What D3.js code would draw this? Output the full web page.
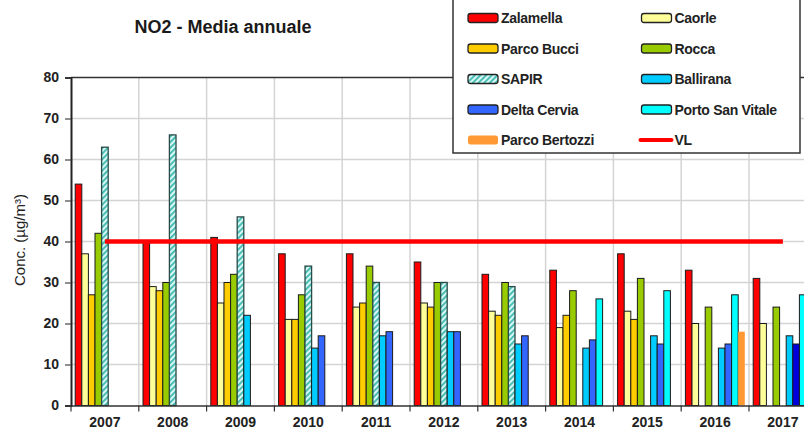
<!DOCTYPE html>
<html>
<head>
<meta charset="utf-8">
<script src="https://cdn.jsdelivr.net/npm/d3@7"></script>
<style>
  html, body { margin: 0; padding: 0; background: #fff; }
  svg { display: block; font-family: "Liberation Sans", Arial, sans-serif; }
</style>
</head>
<body>
<svg id="chart" width="804" height="434"></svg>
<script>
// Annual mean NO2 per monitoring station
const years = ["2007","2008","2009","2010","2011","2012","2013","2014","2015","2016","2017"];
const stations = ["Zalamella","Caorle","Parco Bucci","Rocca","SAPIR","Ballirana","Delta Cervia","Porto San Vitale","Parco Bertozzi"];

const zalamella      = [54, 40, 41, 37, 37, 35, 32, 33, 37, 33, 31];
const caorle         = [37, 29, 25, 21, 24, 25, 23, 19, 23, 20, 20];
const parcoBucci     = [27, 28, 30, 21, 25, 24, 22, 22, 21, null, null];
const rocca          = [42, 30, 32, 27, 34, 30, 30, 28, 31, 24, 24];
const sapir          = [63, 66, 46, 34, 30, 30, 29, null, null, null, null];
const ballirana      = [null, null, 22, 14, 17, 18, 15, 14, 17, 14, 17];
const deltaCervia    = [null, null, null, 17, 18, 18, 17, 16, 15, 15, 15];
const portoSanVitale = [null, null, null, null, null, null, null, 26, 28, 27, 27];
const parcoBertozzi  = [null, null, null, null, null, null, null, null, null, 18, null];
const limitValue     = [40, 40, 40, 40, 40, 40, 40, 40, 40, 40, 40];

const yTicks = [0, 10, 20, 30, 40, 50, 60, 70, 80];

const seriesValues = [zalamella, caorle, parcoBucci, rocca, sapir, ballirana, deltaCervia, portoSanVitale, parcoBertozzi];

const fills = {
  "Zalamella": "#ff0000",
  "Caorle": "#ffff99",
  "Parco Bucci": "#ffcc00",
  "Rocca": "#99cc00",
  "SAPIR": "url(#hatch)",
  "Ballirana": "#00ccff",
  "Delta Cervia": "#3366ff",
  "Porto San Vitale": "#00ffff",
  "Parco Bertozzi": "#ff9933"
};
const pointFill = { "Delta Cervia|2017": "#0000dd" };

const svg = d3.select("#chart");
const defs = svg.append("defs");
const pat = defs.append("pattern")
  .attr("id", "hatch").attr("patternUnits", "userSpaceOnUse")
  .attr("width", 4).attr("height", 4)
  .attr("patternTransform", "rotate(-45)");
pat.append("rect").attr("width", 4).attr("height", 4).attr("fill", "#d8f8f4");
pat.append("rect").attr("width", 4).attr("height", 1.8).attr("fill", "#3cb8b0");

const plotLeft = 71, plotTop = 77.5, plotBottom = 405.5, step = 67.8;
const x0 = d3.scaleBand().domain(years).range([plotLeft, plotLeft + step * years.length]).padding(0);
const x1 = d3.scaleBand().domain(stations).range([4.2, x0.bandwidth() - 4.2]).padding(0);
const y = d3.scaleLinear().domain([0, 80]).range([plotBottom, plotTop]);

// grid
const grid = svg.append("g");
grid.selectAll("line.h").data(yTicks.filter(d => d > 0 && d < 80)).join("line")
  .attr("x1", plotLeft).attr("x2", 804).attr("y1", d => y(d)).attr("y2", d => y(d))
  .attr("stroke", "#d4d4d4").attr("stroke-width", 1.5);
grid.selectAll("line.v").data(years.slice(1)).join("line")
  .attr("x1", d => x0(d)).attr("x2", d => x0(d)).attr("y1", plotTop).attr("y2", plotBottom)
  .attr("stroke", "#d4d4d4").attr("stroke-width", 1.5);
// frame top
svg.append("line").attr("x1", plotLeft).attr("x2", 804).attr("y1", plotTop).attr("y2", plotTop)
  .attr("stroke", "#333").attr("stroke-width", 1.3);

// bars
const barData = [];
stations.forEach((s, si) => {
  seriesValues[si].forEach((v, yi) => {
    if (v !== null) barData.push({ station: s, year: years[yi], value: v });
  });
});
svg.append("g").selectAll("rect").data(barData).join("rect")
  .attr("x", d => x0(d.year) + x1(d.station))
  .attr("y", d => y(d.value))
  .attr("width", x1.bandwidth())
  .attr("height", d => y(0) - y(d.value))
  .attr("fill", d => pointFill[d.station + "|" + d.year] || fills[d.station])
  .attr("stroke", d => d.station === "Parco Bertozzi" ? "none" : (d.station === "SAPIR" ? "#2a4a48" : "#1a1a1a"))
  .attr("stroke-width", d => d.station === "SAPIR" ? 1.3 : 1);

// limit value line
const vl = d3.line().x((d, i) => x0(years[i]) + x0.bandwidth() / 2).y(d => y(d));
svg.append("path").datum(limitValue).attr("d", vl)
  .attr("fill", "none").attr("stroke", "#ff0000").attr("stroke-width", 4.5);

// axes
const yAxis = svg.append("g").attr("transform", `translate(${plotLeft},0)`)
  .call(d3.axisLeft(y).tickValues(yTicks).tickSize(6).tickPadding(6));
yAxis.select(".domain").attr("stroke", "#222").attr("stroke-width", 2);
yAxis.selectAll(".tick line").attr("stroke", "#444").attr("stroke-width", 1.2);
yAxis.selectAll("text").attr("font-size", 14).attr("font-weight", "bold").attr("fill", "#222")
  .attr("font-family", "Liberation Sans, Arial, sans-serif");

const xAxis = svg.append("g").attr("transform", `translate(0,${plotBottom})`)
  .call(d3.axisBottom(x0).tickSize(0).tickPadding(12));
xAxis.select(".domain").attr("stroke", "#333").attr("stroke-width", 1.5);
xAxis.selectAll("text").attr("font-size", 14).attr("font-weight", "bold").attr("fill", "#222")
  .attr("font-family", "Liberation Sans, Arial, sans-serif");
svg.append("g").selectAll("line").data(years).join("line")
  .attr("x1", d => x0(d)).attr("x2", d => x0(d)).attr("y1", plotBottom).attr("y2", plotBottom + 6)
  .attr("stroke", "#333").attr("stroke-width", 1.2);

// titles
svg.append("text").attr("x", 223).attr("y", 33).attr("text-anchor", "middle")
  .attr("font-size", 18).attr("font-weight", "bold").attr("fill", "#1a1a1a")
  .text("NO2 - Media annuale");
svg.append("text").attr("transform", "translate(25,240) rotate(-90)").attr("text-anchor", "middle")
  .attr("font-size", 15).attr("fill", "#222")
  .text("Conc. (µg/m³)");

// legend
const legend = svg.append("g");
legend.append("rect").attr("x", 453).attr("y", -2).attr("width", 347).attr("height", 155)
  .attr("fill", "#fff").attr("stroke", "#333").attr("stroke-width", 1.5);
const legendItems = stations.concat(["VL"]);
const colX = [468, 641.5];
legendItems.forEach((name, i) => {
  const col = i % 2, row = Math.floor(i / 2);
  const cy = 18 + row * 30.5;
  const g = legend.append("g");
  if (name === "VL") {
    g.append("line").attr("x1", colX[col] - 1).attr("x2", colX[col] + 30).attr("y1", cy).attr("y2", cy)
      .attr("stroke", "#ff0000").attr("stroke-width", 4).attr("stroke-linecap", "round");
  } else {
    g.append("rect").attr("x", colX[col]).attr("y", cy - 4.5).attr("width", 30).attr("height", 9)
      .attr("rx", 2.5)
      .attr("fill", fills[name])
      .attr("stroke", name === "Parco Bertozzi" ? "none" : "#222").attr("stroke-width", 1.3);
  }
  g.append("text").attr("x", colX[col] + 33).attr("y", cy + 5)
    .attr("font-size", 14).attr("font-weight", "bold").attr("fill", "#222")
    .attr("letter-spacing", "-0.3")
    .text(name);
});
</script>
</body>
</html>
